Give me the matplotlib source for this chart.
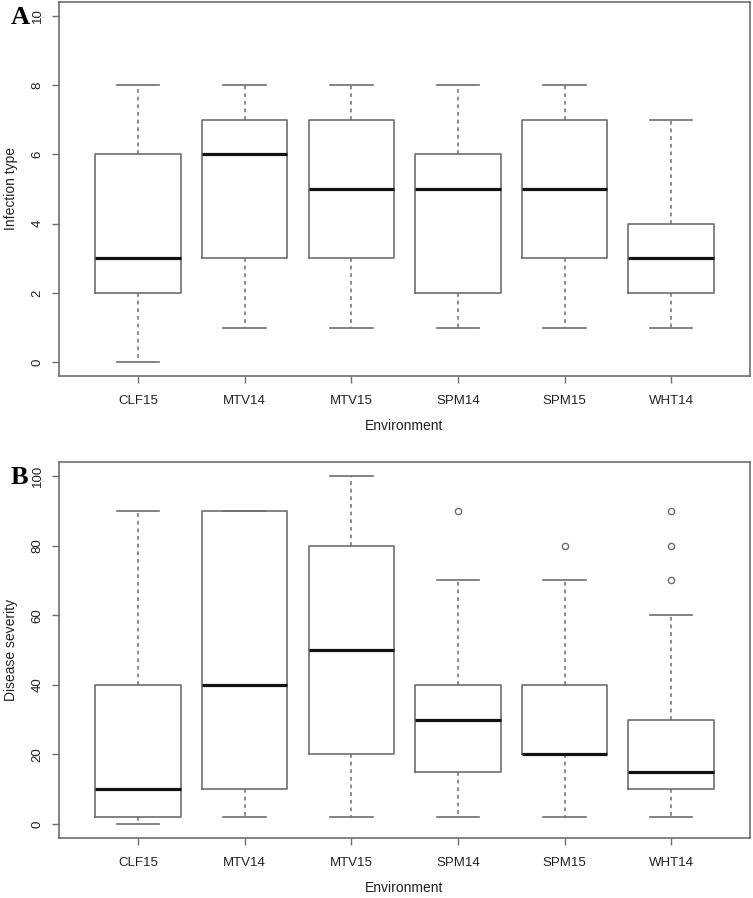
import matplotlib
matplotlib.use('Agg')
import matplotlib.pyplot as plt

plt.rcParams['font.family'] = ['Liberation Sans', 'DejaVu Sans']

envs = ['CLF15', 'MTV14', 'MTV15', 'SPM14', 'SPM15', 'WHT14']

# panel A: infection type
it_low = [0, 1, 1, 1, 1, 1]
it_q1 = [2, 3, 3, 2, 3, 2]
it_med = [3, 6, 5, 5, 5, 3]
it_q3 = [6, 7, 7, 6, 7, 4]
it_high = [8, 8, 8, 8, 8, 7]
it_out = [[], [], [], [], [], []]

# panel B: disease severity
ds_low = [0, 2, 2, 2, 2, 2]
ds_q1 = [2, 10, 20, 15, 20, 10]
ds_med = [10, 40, 50, 30, 20, 15]
ds_q3 = [40, 90, 80, 40, 40, 30]
ds_high = [90, 90, 100, 70, 70, 60]
ds_out = [[], [], [], [90], [80], [70, 80, 90]]

GREY = '#6e6e6e'


def draw(ax, low, q1, med, q3, high, out, ylim, yticks, ylabel, tag):
    stats = []
    for i in range(len(envs)):
        stats.append(dict(label=envs[i], whislo=low[i], q1=q1[i], med=med[i],
                          q3=q3[i], whishi=high[i], fliers=out[i]))
    ax.bxp(stats, widths=0.8, showfliers=True,
           boxprops=dict(color=GREY, linewidth=1.2),
           medianprops=dict(color='#111111', linewidth=2.3, solid_capstyle='butt'),
           whiskerprops=dict(color=GREY, linewidth=1.1, linestyle=(0, (2.5, 2.5))),
           capprops=dict(color=GREY, linewidth=1.2),
           capwidths=0.4,
           flierprops=dict(marker='o', markersize=4.5, markerfacecolor='none',
                           markeredgecolor=GREY, markeredgewidth=1))
    ax.set_xlim(0.26, 6.74)
    ax.set_ylim(*ylim)
    ax.set_yticks(yticks)
    ax.set_yticklabels([str(t) for t in yticks], rotation=90, va='center')
    for s in ax.spines.values():
        s.set_color(GREY)
        s.set_linewidth(1.2)
    ax.tick_params(axis='both', colors=GREY, length=5, width=1, labelcolor='#222222',
                   labelsize=9.5)
    ax.tick_params(axis='x', pad=9)
    ax.tick_params(axis='y', pad=6)
    ax.set_xlabel('Environment', fontsize=10, color='#222222', labelpad=8)
    ax.set_ylabel(ylabel, fontsize=10, color='#222222', labelpad=10)
    ax.text(-0.07, 0.99, tag, transform=ax.transAxes, fontsize=19, fontweight='bold',
            family='Liberation Serif', va='top', ha='left')


fig = plt.figure(figsize=(7.53, 8.98), dpi=100)
axA = fig.add_axes([0.0784, 0.5813, 0.9177, 0.4165])
axB = fig.add_axes([0.0784, 0.0668, 0.9177, 0.4187])

draw(axA, it_low, it_q1, it_med, it_q3, it_high, it_out, (-0.4, 10.4),
     [0, 2, 4, 6, 8, 10], 'Infection type', 'A')
draw(axB, ds_low, ds_q1, ds_med, ds_q3, ds_high, ds_out, (-4, 104),
     [0, 20, 40, 60, 80, 100], 'Disease severity', 'B')

fig.savefig('out.png', dpi=100)
